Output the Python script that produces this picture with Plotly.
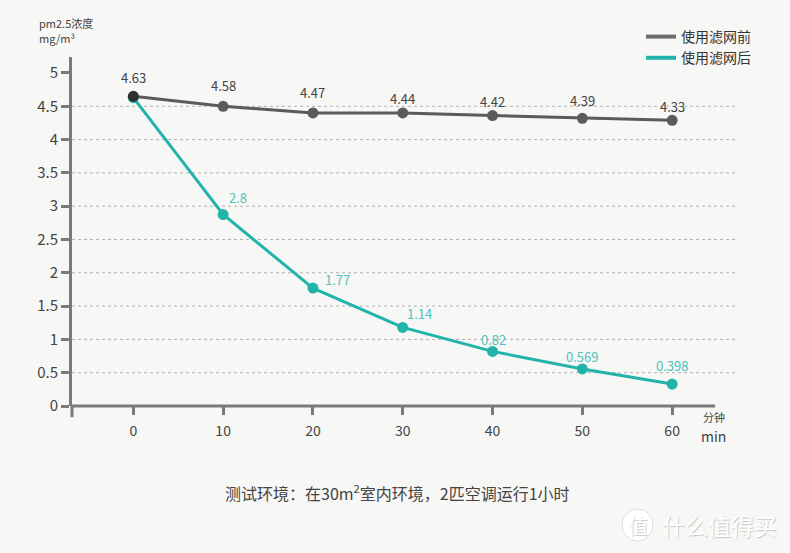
import plotly.graph_objects as go

# ---- data ----
minutes = [0, 10, 20, 30, 40, 50, 60]
before_vals = [4.65, 4.50, 4.40, 4.40, 4.36, 4.32, 4.29]
before_labels = ["4.63", "4.58", "4.47", "4.44", "4.42", "4.39", "4.33"]
after_vals = [4.63, 2.875, 1.77, 1.18, 0.82, 0.556, 0.33]
after_labels = ["", "2.8", "1.77", "1.14", "0.82", "0.569", "0.398"]
series_names = ["使用滤网前", "使用滤网后"]
y_ticks = [0, 0.5, 1, 1.5, 2, 2.5, 3, 3.5, 4, 4.5, 5]
y_tick_text = ["0", "0.5", "1", "1.5", "2", "2.5", "3", "3.5", "4", "4.5", "5"]
grid_vals = [0.5, 1, 1.5, 2, 2.5, 3, 3.5, 4, 4.5]

# label offsets (pixels) – styling only
DARK_DY = [19, 21, 20, 14, 14, 18, 14]
TEAL_DX = [0, 15, 25, 17, 1, 0, 0]
TEAL_DY = [0, 17, 9, 14, 12, 12, 19]

FONT = "Noto Sans CJK SC"
BG = "#f7f7f5"
DARK = "#5b5b5b"
TEAL = "#22b3aa"
TEAL_TXT = "#4cc3bb"
AXIS = "#7a7a7a"
TXT = "#444444"

fig = go.Figure()

fig.add_trace(go.Scatter(
    x=minutes, y=after_vals, mode="lines+markers",
    line=dict(color=TEAL, width=3),
    marker=dict(color=TEAL, size=11),
    showlegend=False, cliponaxis=False, hoverinfo="x+y",
))
fig.add_trace(go.Scatter(
    x=minutes, y=before_vals, mode="lines+markers",
    line=dict(color=DARK, width=3),
    marker=dict(color=["#2f2f2f"] + [DARK] * 6, size=11),
    showlegend=False, cliponaxis=False, hoverinfo="x+y",
))
# legend-only line swatches
fig.add_trace(go.Scatter(x=[None], y=[None], mode="lines", name=series_names[0],
                         line=dict(color="#6e6e6e", width=4)))
fig.add_trace(go.Scatter(x=[None], y=[None], mode="lines", name=series_names[1],
                         line=dict(color=TEAL, width=4)))

annotations = []
for xv, yv, lab, dy in zip(minutes, before_vals, before_labels, DARK_DY):
    annotations.append(dict(x=xv, y=yv, xref="x", yref="y", text=lab, showarrow=False,
                            yshift=dy, font=dict(family=FONT, size=13, color=TXT)))
for xv, yv, lab, dx, dy in zip(minutes, after_vals, after_labels, TEAL_DX, TEAL_DY):
    if lab:
        annotations.append(dict(x=xv, y=yv, xref="x", yref="y", text=lab, showarrow=False,
                                xshift=dx, yshift=dy,
                                font=dict(family=FONT, size=13, color=TEAL_TXT)))

# dotted grid lines
for g in grid_vals:
    fig.add_shape(type="line", xref="paper", yref="y", x0=0, x1=1, y0=g, y1=g,
                  line=dict(color="#b0b0b0", width=1, dash="dot"), layer="below")
# x axis line (ends before the grid) and y axis extension below zero
fig.add_shape(type="line", xref="paper", yref="paper", x0=0, x1=0.97, y0=0, y1=0,
              line=dict(color=AXIS, width=3))
fig.add_shape(type="line", xref="paper", yref="paper", x0=0, x1=0, y0=0, y1=-0.032,
              line=dict(color=AXIS, width=3))
# watermark circle
fig.add_shape(type="circle", xref="paper", yref="paper",
              x0=(622 - 72) / 663, x1=(653 - 72) / 663,
              y0=(406 - 541) / 349, y1=(406 - 509) / 349,
              line=dict(color="#dedede", width=1), fillcolor="#ffffff")

annotations += [
    dict(text="pm2.5浓度", xref="paper", yref="paper",
         x=(37 - 72) / 663, y=(406 - 23) / 349, xanchor="left", yanchor="middle",
         showarrow=False, align="left", font=dict(family=FONT, size=11, color=TXT)),
    dict(text="mg/m³", xref="paper", yref="paper",
         x=(37 - 72) / 663, y=(406 - 38) / 349, xanchor="left", yanchor="middle",
         showarrow=False, align="left", font=dict(family=FONT, size=11, color=TXT)),
    dict(text="分钟", xref="paper", yref="paper", x=(713.5 - 72) / 663, y=(406 - 417) / 349,
         xanchor="center", yanchor="middle", showarrow=False, borderpad=0,
         font=dict(family=FONT, size=11, color=TXT)),
    dict(text="min", xref="paper", yref="paper", x=(713.5 - 72) / 663, y=(406 - 435.5) / 349,
         xanchor="center", yanchor="middle", showarrow=False, borderpad=0,
         font=dict(family=FONT, size=14, color=TXT)),
    dict(text="测试环境：在30m<sup>2</sup>室内环境，2匹空调运行1小时", xref="paper", yref="paper",
         x=(397 - 72) / 663, y=(406 - 492) / 349, xanchor="center", yanchor="middle",
         showarrow=False, font=dict(family=FONT, size=16, color=TXT)),
    dict(text="值", xref="paper", yref="paper",
         x=(637.5 - 72) / 663, y=(406 - 525) / 349, xanchor="center", yanchor="middle",
         showarrow=False, font=dict(family=FONT, size=20, color="#ffffff",
                                    shadow="1px 1px 1px #c8c8c8")),
    dict(text="什么值得买", xref="paper", yref="paper",
         x=(719 - 72) / 663, y=(406 - 525) / 349, xanchor="center", yanchor="middle",
         showarrow=False, font=dict(family=FONT, size=23, color="#ffffff",
                                    shadow="1px 1px 1px #c8c8c8")),
]

fig.update_layout(
    width=790, height=553,
    margin=dict(l=72, r=55, t=57, b=147),
    paper_bgcolor=BG, plot_bgcolor=BG,
    font=dict(family=FONT, color=TXT),
    xaxis=dict(range=[-6.83, 67.0], tickvals=minutes, ticktext=[str(m) for m in minutes],
               showgrid=False, zeroline=False, showline=False,
               ticks="outside", ticklen=8, tickwidth=3, tickcolor=AXIS,
               ticklabelstandoff=4,
               tickfont=dict(family=FONT, size=14, color=TXT)),
    yaxis=dict(range=[0, 5.24], tickvals=y_ticks, ticktext=y_tick_text,
               showgrid=False, zeroline=False, showline=True, linecolor=AXIS, linewidth=3,
               ticks="outside", ticklen=8, tickwidth=3, tickcolor=AXIS,
               tickfont=dict(family=FONT, size=15, color=TXT)),
    legend=dict(x=(641 - 72) / 663, y=(406 - 21) / 349, xanchor="left", yanchor="top",
                bgcolor="rgba(0,0,0,0)", font=dict(family=FONT, size=14, color="#333333"),
                itemwidth=30),
    annotations=annotations,
)

fig.write_html("out.html",
               config={"displayModeBar": False},
               post_script="document.body.style.margin='0';"
                           "document.body.style.background='#f7f7f5';")
